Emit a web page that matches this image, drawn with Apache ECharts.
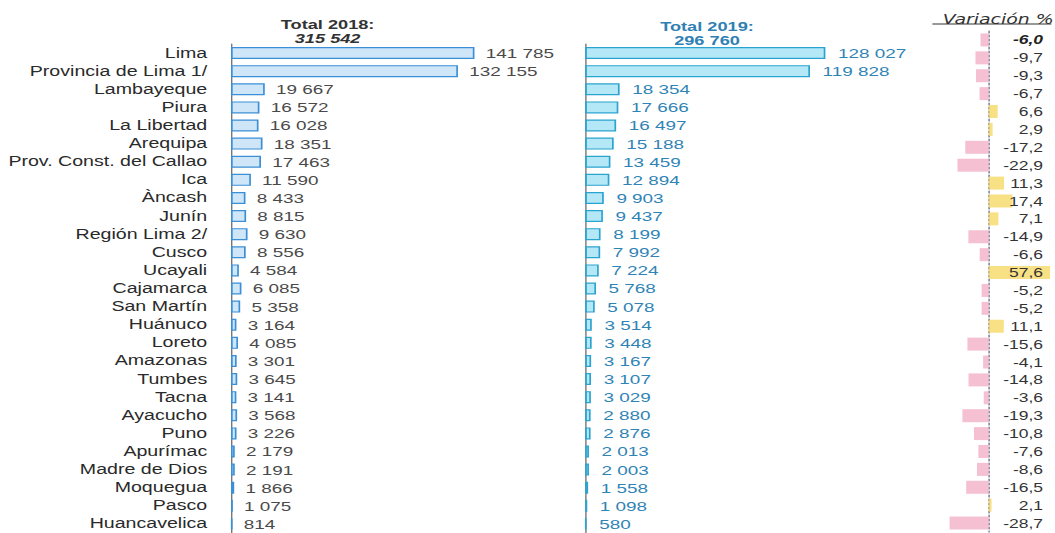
<!DOCTYPE html>
<html>
<head>
<meta charset="utf-8">
<script src="https://cdn.jsdelivr.net/npm/echarts@6/dist/echarts.min.js"></script>
<style>
  html, body { margin: 0; padding: 0; background: #fff; overflow: hidden; }
  /* 原图文字是横向拉伸的，这里整体横向拉伸 1.4 倍 */
  #chart { width: 754px; height: 533px; transform: scaleX(1.4); transform-origin: 0 0; }
</style>
</head>
<body>
<div id="chart"></div>
<script>
// 类别（地区）
const regions = ['Lima', 'Provincia de Lima 1/', 'Lambayeque', 'Piura', 'La Libertad', 'Arequipa',
    'Prov. Const. del Callao', 'Ica', 'Àncash', 'Junín', 'Región Lima 2/', 'Cusco', 'Ucayali',
    'Cajamarca', 'San Martín', 'Huánuco', 'Loreto', 'Amazonas', 'Tumbes', 'Tacna', 'Ayacucho',
    'Puno', 'Apurímac', 'Madre de Dios', 'Moquegua', 'Pasco', 'Huancavelica']
// 2018 与 2019 的数值
const values2018 = [141785, 132155, 19667, 16572, 16028, 18351, 17463, 11590, 8433, 8815, 9630, 8556,
    4584, 6085, 5358, 3164, 4085, 3301, 3645, 3141, 3568, 3226, 2179, 2191, 1866, 1075, 814]
const values2019 = [128027, 119828, 18354, 17666, 16497, 15188, 13459, 12894, 9903, 9437, 8199, 7992,
    7224, 5768, 5078, 3514, 3448, 3167, 3107, 3029, 2880, 2876, 2013, 2003, 1558, 1098, 580]
// 合计
const total2018 = 315542
const total2019 = 296760
// 变化率 %（第一个是合计）
const variation = [-6.0, -9.7, -9.3, -6.7, 6.6, 2.9, -17.2, -22.9, 11.3, 17.4, 7.1, -14.9, -6.6, 57.6,
    -5.2, -5.2, 11.1, -15.6, -4.1, -14.8, -3.6, -19.3, -10.8, -7.6, -8.6, -16.5, 2.1, -28.7]
const variationCats = ['Total'].concat(regions)

const FONT = 'Liberation Sans'

// 千位空格分隔
function fmt(v) {
    return String(v).replace(/\B(?=(\d{3})+(?!\d))/g, ' ')
}
function fmtPct(v) {
    return v.toFixed(1).replace('.', ',')
}

const cs = echarts.init(document.getElementById('chart'), null, { renderer: 'svg' })

const option = {
    animation: false,
    backgroundColor: '#fff',
    title: [
        {
            text: 'Total 2018:\n{i|' + fmt(total2018) + '}',
            left: 229, top: 12, textAlign: 'center',
            textStyle: {
                fontFamily: FONT, fontSize: 13, fontWeight: 'bold', color: '#333', lineHeight: 14,
                rich: { i: { fontFamily: FONT, fontSize: 13, fontWeight: 'bold', fontStyle: 'italic', color: '#333', lineHeight: 14 } }
            }
        },
        {
            text: 'Total 2019:\n' + fmt(total2019),
            left: 500, top: 14, textAlign: 'center',
            textStyle: { fontFamily: FONT, fontSize: 13, fontWeight: 'bold', color: '#2f80b3', lineHeight: 14 }
        },
        {
            text: 'Variación %',
            left: 708, top: 7, textAlign: 'center',
            textStyle: { fontFamily: 'DejaVu Sans', fontSize: 13.5, fontStyle: 'italic', fontWeight: 'normal', color: '#333' }
        }
    ],
    graphic: [
        // 标题下划线
        { type: 'line', shape: { x1: 666, y1: 24, x2: 751, y2: 24 }, style: { stroke: '#333', lineWidth: 1 } }
    ],
    grid: [
        { left: 165, width: 184, top: 44, height: 489 },
        { left: 418, width: 201, top: 44, height: 489 },
        { left: 677, width: 73, top: 31, height: 501 }
    ],
    xAxis: [
        { gridIndex: 0, type: 'value', min: 0, max: 150000, show: false },
        { gridIndex: 1, type: 'value', min: 0, max: 150000, show: false },
        { gridIndex: 2, type: 'value', min: -30, max: 45, show: false }
    ],
    yAxis: [
        {
            gridIndex: 0, type: 'category', inverse: true, data: regions,
            axisLine: { show: true, lineStyle: { color: '#777', width: 1 } },
            axisTick: { show: false },
            axisLabel: { interval: 0, margin: 17, fontFamily: FONT, fontSize: 14, color: '#2a2a2a' }
        },
        {
            gridIndex: 1, type: 'category', inverse: true, data: regions,
            axisLine: { show: true, lineStyle: { color: '#777', width: 1 } },
            axisTick: { show: false },
            axisLabel: { show: false }
        },
        {
            // 零线（虚线）
            gridIndex: 2, type: 'category', inverse: true, data: variationCats,
            axisLine: { show: true, onZero: true, lineStyle: { color: '#8a8aa0', width: 1.2, type: [2, 2] } },
            axisTick: { show: false },
            axisLabel: { show: false }
        },
        {
            // 变化率数值标签，放在柱子上面
            gridIndex: 2, type: 'category', inverse: true, position: 'right', data: variationCats, z: 5,
            axisLine: { show: false },
            axisTick: { show: false },
            axisLabel: {
                interval: 0, inside: true, margin: 5, align: 'right', fontFamily: FONT, fontSize: 12.5, color: '#333',
                formatter: function (v, idx) {
                    const t = fmtPct(variation[idx])
                    return idx === 0 ? '{b|' + t + '}' : t
                },
                rich: { b: { fontFamily: FONT, fontSize: 12.5, fontWeight: 'bold', fontStyle: 'italic', color: '#222' } }
            }
        }
    ],
    series: [
        {
            type: 'bar', xAxisIndex: 0, yAxisIndex: 0, data: values2018, barWidth: 12,
            itemStyle: { color: '#cfe6f8', borderColor: '#3b8fd6', borderWidth: 1.2 },
            label: {
                show: true, position: 'right', distance: 8, fontFamily: FONT, fontSize: 13.5, color: '#4a4a4a',
                formatter: p => fmt(p.value)
            }
        },
        {
            type: 'bar', xAxisIndex: 1, yAxisIndex: 1, data: values2019, barWidth: 12,
            itemStyle: { color: '#b5e8f7', borderColor: '#2aa3cf', borderWidth: 1.2 },
            label: {
                show: true, position: 'right', distance: 9, fontFamily: FONT, fontSize: 13.5, color: '#3084b5',
                formatter: p => fmt(p.value)
            }
        },
        {
            type: 'bar', xAxisIndex: 2, yAxisIndex: 2, barWidth: 13, clip: true,
            data: variation.map(v => ({
                value: v,
                itemStyle: { color: v < 0 ? 'rgba(243,176,198,0.8)' : 'rgba(246,214,92,0.75)' }
            }))
        }
    ]
}

cs.setOption(option)
</script>
</body>
</html>
